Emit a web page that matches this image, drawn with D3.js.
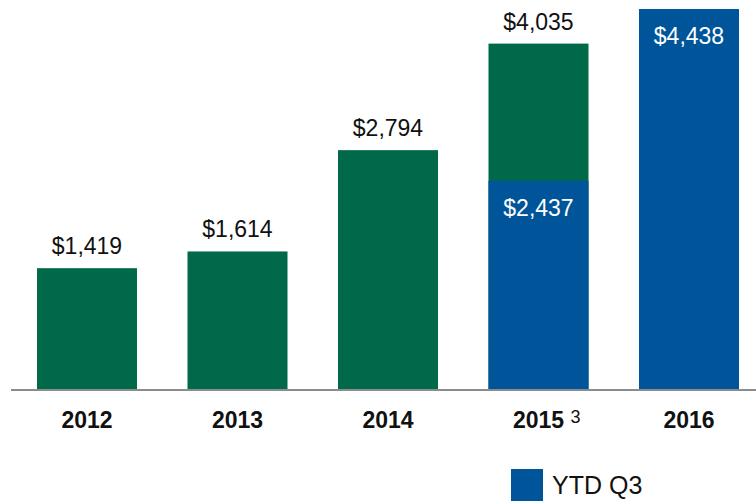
<!doctype html>
<html>
<head>
    <meta charset="utf-8">
    <title>Annual totals</title>
    <script src="https://cdn.jsdelivr.net/npm/d3@7"></script>
    <style>
        html, body { margin: 0; padding: 0; background: #fff; }
        svg { display: block; font-family: "Liberation Sans", Arial, sans-serif; }
    </style>
</head>
<body>
<div id="chart"></div>
<script>
// data
var years = ["2012", "2013", "2014", "2015", "2016"];
var fullYear = [1419, 1614, 2794, 4035, null];   // green bars
var ytdQ3 = [null, null, null, 2437, 4438];      // blue bars
var footnotes = ["", "", "", "3", ""];
var legendLabel = "YTD Q3";

var W = 756, H = 501, base = 390;
var green = "#00694a", blue = "#00559a";

var svg = d3.select("#chart").append("svg")
    .attr("width", W)
    .attr("height", H);

var x = d3.scaleBand()
    .domain(years)
    .range([11.75, 11.75 + 5 * 150.5])
    .paddingInner(50.5 / 150.5)
    .paddingOuter(50.5 / 150.5 / 2);

var y = d3.scaleLinear()
    .domain([0, 4543])
    .range([base, 0]);

var fmt = function (v) { return "$" + d3.format(",")(v); };

function rows(vals) {
    return years.map(function (d, i) { return { year: d, v: vals[i] }; })
        .filter(function (d) { return d.v != null; });
}

// green (full year) bars
svg.selectAll("rect.full")
    .data(rows(fullYear))
    .enter().append("rect")
    .attr("class", "full")
    .attr("x", function (d) { return x(d.year); })
    .attr("y", function (d) { return y(d.v); })
    .attr("width", x.bandwidth())
    .attr("height", function (d) { return base - y(d.v); })
    .style("fill", green);

// blue (YTD) bars drawn on top
svg.selectAll("rect.ytd")
    .data(rows(ytdQ3))
    .enter().append("rect")
    .attr("class", "ytd")
    .attr("x", function (d) { return x(d.year); })
    .attr("y", function (d) { return y(d.v); })
    .attr("width", x.bandwidth())
    .attr("height", function (d) { return base - y(d.v); })
    .style("fill", blue);

// labels above green bars
svg.selectAll("text.full")
    .data(rows(fullYear))
    .enter().append("text")
    .attr("class", "full")
    .attr("x", function (d) { return x(d.year) + x.bandwidth() / 2; })
    .attr("y", function (d) { return y(d.v) - 14; })
    .attr("text-anchor", "middle")
    .style("font-size", "23px")
    .style("fill", "#111")
    .text(function (d) { return fmt(d.v); });

// labels inside blue bars
svg.selectAll("text.ytd")
    .data(rows(ytdQ3))
    .enter().append("text")
    .attr("class", "ytd")
    .attr("x", function (d) { return x(d.year) + x.bandwidth() / 2; })
    .attr("y", function (d) { return y(d.v) + 35; })
    .attr("text-anchor", "middle")
    .style("font-size", "23px")
    .style("fill", "#fff")
    .text(function (d) { return fmt(d.v); });

// baseline
svg.append("line")
    .attr("x1", 11).attr("x2", W)
    .attr("y1", base).attr("y2", base)
    .style("stroke", "#8c8c8c")
    .style("stroke-width", 2);

// category labels
var cat = svg.selectAll("g.cat")
    .data(years)
    .enter().append("g")
    .attr("class", "cat");

cat.append("text")
    .attr("x", function (d) { return x(d) + x.bandwidth() / 2; })
    .attr("y", 428)
    .attr("text-anchor", "middle")
    .style("font-size", "23px")
    .style("font-weight", "bold")
    .style("fill", "#111")
    .text(function (d) { return d; });

cat.append("text")
    .attr("x", function (d) { return x(d) + x.bandwidth() / 2 + 32; })
    .attr("y", 423)
    .style("font-size", "18px")
    .style("fill", "#111")
    .text(function (d, i) { return footnotes[i]; });

// legend
var legend = svg.append("g")
    .attr("transform", "translate(511, 469)");

legend.append("rect")
    .attr("width", 32)
    .attr("height", 32)
    .style("fill", blue);

legend.append("text")
    .attr("x", 41)
    .attr("y", 25)
    .style("font-size", "25px")
    .style("fill", "#111")
    .text(legendLabel);
</script>
</body>
</html>
